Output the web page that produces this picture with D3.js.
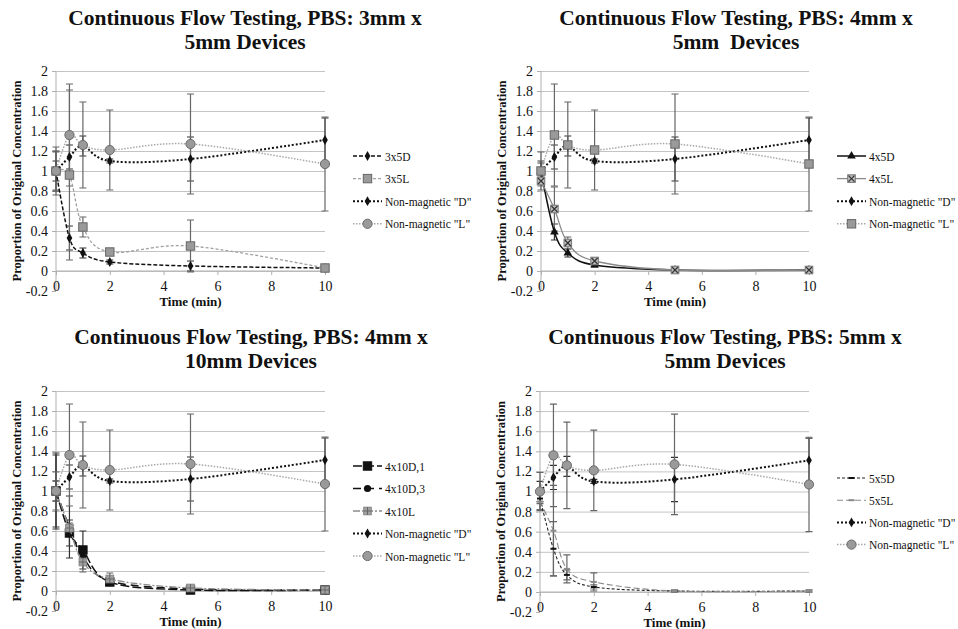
<!DOCTYPE html>
<html>
<head>
<meta charset="utf-8">
<script src="https://cdn.jsdelivr.net/npm/d3@7"></script>
<style>
  body { margin: 0; background: #fff; }
  svg text { font-family: "Liberation Serif", "DejaVu Serif", serif !important; fill: #111; }
</style>
</head>
<body>
<svg id="chart" width="958" height="629"></svg>
<script>
// Sampling times (min)
const times = [0, 0.5, 1, 2, 5, 10];
const xTicks = [0, 2, 4, 6, 8, 10];
const yTicks = [-0.2, 0, 0.2, 0.4, 0.6, 0.8, 1, 1.2, 1.4, 1.6, 1.8, 2];

// Non-magnetic controls (same in every panel)
const nonMagD = [1.00, 1.14, 1.25, 1.10, 1.12, 1.31];
const nonMagDErr = [0.10, 0.12, 0.10, 0.02, 0.22, 0.22];
const nonMagL = [1.00, 1.36, 1.26, 1.21, 1.27, 1.07];
const nonMagLErr = [0.19, 0.51, 0.43, 0.40, 0.50, 0.47];

// 3mm x 5mm
const d3x5 = [1.00, 0.33, 0.18, 0.09, 0.05, 0.03];
const d3x5Err = [0.20, 0.12, 0.05, 0.02, 0.05, 0.01];
const l3x5 = [1.00, 0.96, 0.44, 0.19, 0.25, 0.03];
const l3x5Err = [0.24, 0.85, 0.10, 0.03, 0.26, 0.02];

// 4mm x 5mm
const d4x5 = [1.00, 0.39, 0.18, 0.06, 0.01, 0.01];
const d4x5Err = [0.08, 0.08, 0.04, 0.02, 0.01, 0.01];
const l4x5 = [0.90, 0.62, 0.28, 0.10, 0.01, 0.01];
const l4x5Err = [0.05, 0.22, 0.06, 0.03, 0.01, 0.01];

// 4mm x 10mm
const d4x10a = [1.00, 0.58, 0.41, 0.09, 0.01, 0.01];
const d4x10aErr = [0.36, 0.13, 0.19, 0.02, 0.01, 0.01];
const d4x10b = [1.00, 0.64, 0.34, 0.10, 0.02, 0.01];
const d4x10bErr = [0.38, 0.31, 0.05, 0.02, 0.01, 0.01];
const l4x10 = [1.00, 0.63, 0.29, 0.12, 0.03, 0.01];
const l4x10Err = [0.10, 0.05, 0.10, 0.06, 0.02, 0.01];

// 5mm x 5mm
const d5x5 = [0.93, 0.43, 0.17, 0.05, 0.01, 0.01];
const d5x5Err = [0.05, 0.27, 0.05, 0.02, 0.01, 0.01];
const l5x5 = [0.90, 0.61, 0.23, 0.10, 0.01, 0.01];
const l5x5Err = [0.08, 0.45, 0.14, 0.09, 0.01, 0.01];

// Line / marker styles
const BLACK = "#111", GRAY = "#8a8a8a";
const styles = {
  nmD: { stroke: BLACK, dash: "2,2", width: 2, marker: "diamond", fill: BLACK },
  nmLcircle: { stroke: "#a8a8a8", dash: "1.5,1.5", width: 1.5, marker: "circle", fill: "#9a9a9a" },
  nmLsquare: { stroke: "#a8a8a8", dash: "1.5,1.5", width: 1.5, marker: "square", fill: "#9a9a9a" },
  d3x5: { stroke: BLACK, dash: "4,2", width: 1.5, marker: "diamond", fill: BLACK },
  l3x5: { stroke: "#a0a0a0", dash: "3,2", width: 1.3, marker: "square", fill: "#9a9a9a" },
  d4x5: { stroke: BLACK, dash: null, width: 1.5, marker: "triangle", fill: BLACK },
  l4x5: { stroke: GRAY, dash: null, width: 1.3, marker: "squareX", fill: "#bdbdbd" },
  d4x10a: { stroke: BLACK, dash: "9,3", width: 1.5, marker: "square", fill: BLACK },
  d4x10b: { stroke: BLACK, dash: "8,5", width: 1.5, marker: "circleSmall", fill: BLACK },
  l4x10: { stroke: GRAY, dash: "7,2,2,2", width: 1.3, marker: "squarePlus", fill: "#a0a0a0" },
  d5x5: { stroke: "#222", dash: "3,2", width: 1.1, marker: "dash", fill: BLACK },
  l5x5: { stroke: GRAY, dash: "6,3", width: 1.1, marker: "dash", fill: GRAY }
};

const panels = [
  {
    title: ["Continuous Flow Testing, PBS: 3mm x", "5mm Devices"],
    x0: 56, x1: 325, yTop: 71, yZero: 271, titleX: 245, titleY: 25,
    legendX: 353, legendY: 156, legendStep: 22.6,
    series: [
      { name: "3x5D", v: d3x5, e: d3x5Err, s: "d3x5" },
      { name: "3x5L", v: l3x5, e: l3x5Err, s: "l3x5" },
      { name: "Non-magnetic \"D\"", v: nonMagD, e: nonMagDErr, s: "nmD" },
      { name: "Non-magnetic \"L\"", v: nonMagL, e: nonMagLErr, s: "nmLcircle" }
    ]
  },
  {
    title: ["Continuous Flow Testing, PBS: 4mm x", "5mm\u00a0 Devices"],
    x0: 541, x1: 809, yTop: 71, yZero: 271, titleX: 736, titleY: 25,
    legendX: 837, legendY: 156, legendStep: 22.6,
    series: [
      { name: "4x5D", v: d4x5, e: d4x5Err, s: "d4x5" },
      { name: "4x5L", v: l4x5, e: l4x5Err, s: "l4x5" },
      { name: "Non-magnetic \"D\"", v: nonMagD, e: nonMagDErr, s: "nmD" },
      { name: "Non-magnetic \"L\"", v: nonMagL, e: nonMagLErr, s: "nmLsquare" }
    ]
  },
  {
    title: ["Continuous Flow Testing, PBS: 4mm x", "10mm Devices"],
    x0: 56, x1: 325, yTop: 391, yZero: 591, titleX: 251, titleY: 344,
    legendX: 353, legendY: 466, legendStep: 22.5,
    series: [
      { name: "4x10D,1", v: d4x10a, e: d4x10aErr, s: "d4x10a" },
      { name: "4x10D,3", v: d4x10b, e: d4x10bErr, s: "d4x10b" },
      { name: "4x10L", v: l4x10, e: l4x10Err, s: "l4x10" },
      { name: "Non-magnetic \"D\"", v: nonMagD, e: nonMagDErr, s: "nmD" },
      { name: "Non-magnetic \"L\"", v: nonMagL, e: nonMagLErr, s: "nmLcircle" }
    ]
  },
  {
    title: ["Continuous Flow Testing, PBS: 5mm x", "5mm Devices"],
    x0: 540, x1: 809, yTop: 391, yZero: 592, titleX: 725, titleY: 344,
    legendX: 837, legendY: 478, legendStep: 22.2,
    series: [
      { name: "5x5D", v: d5x5, e: d5x5Err, s: "d5x5" },
      { name: "5x5L", v: l5x5, e: l5x5Err, s: "l5x5" },
      { name: "Non-magnetic \"D\"", v: nonMagD, e: nonMagDErr, s: "nmD" },
      { name: "Non-magnetic \"L\"", v: nonMagL, e: nonMagLErr, s: "nmLcircle" }
    ]
  }
];

const svg = d3.select("#chart");

function drawMarker(g, type, st, x, y) {
  const m = g.append("g").attr("transform", `translate(${x},${y})`);
  if (type === "diamond") {
    m.append("path").attr("d", d3.symbol(d3.symbolDiamond, 28)()).attr("fill", st.fill);
  } else if (type === "triangle") {
    m.append("path").attr("d", d3.symbol(d3.symbolTriangle, 32)()).attr("fill", st.fill);
  } else if (type === "circle") {
    m.append("circle").attr("r", 4.6).attr("fill", st.fill).attr("stroke", "#6a6a6a").attr("stroke-width", 1);
  } else if (type === "circleSmall") {
    m.append("circle").attr("r", 3.6).attr("fill", st.fill);
  } else if (type === "square") {
    const dark = st.fill === BLACK;
    m.append("rect").attr("x", -4.2).attr("y", -4.2).attr("width", 8.4).attr("height", 8.4)
      .attr("fill", st.fill).attr("stroke", dark ? BLACK : "#666").attr("stroke-width", 1);
  } else if (type === "squareX") {
    m.append("rect").attr("x", -3.8).attr("y", -3.8).attr("width", 7.6).attr("height", 7.6)
      .attr("fill", st.fill).attr("stroke", "#777").attr("stroke-width", 1);
    m.append("path").attr("d", "M-3,-3L3,3M-3,3L3,-3").attr("stroke", "#333").attr("stroke-width", 1.2);
  } else if (type === "squarePlus") {
    m.append("rect").attr("x", -3.8).attr("y", -3.8).attr("width", 7.6).attr("height", 7.6)
      .attr("fill", st.fill).attr("stroke", "#888").attr("stroke-width", 1);
    m.append("path").attr("d", "M0,-3.8V3.8M-3.8,0H3.8").attr("stroke", "#666").attr("stroke-width", 1);
  } else if (type === "dash") {
    m.append("path").attr("d", "M-3,0H3").attr("stroke", st.fill).attr("stroke-width", 2);
  }
}

const fmt = v => (Math.round(v * 10) / 10).toString();

panels.forEach(p => {
  const x = d3.scaleLinear().domain([0, 10]).range([p.x0, p.x1]);
  const y = d3.scaleLinear().domain([0, 2]).range([p.yZero, p.yTop]);
  const g = svg.append("g");

  // Gridlines (skip -0.2)
  g.append("g")
    .attr("transform", `translate(${p.x0},0)`)
    .call(d3.axisLeft(y).tickValues(yTicks.filter(t => t > -0.1)).tickSize(-(p.x1 - p.x0)).tickFormat(""))
    .call(a => a.select(".domain").remove())
    .call(a => a.selectAll("line").attr("stroke", "#c4c4c4").attr("stroke-width", 1));

  // Y axis with outside ticks
  const yAxis = g.append("g")
    .attr("transform", `translate(${p.x0},0)`)
    .call(d3.axisLeft(y).tickValues(yTicks).tickSize(4).tickPadding(4).tickFormat(fmt));
  yAxis.select(".domain").attr("stroke", "#b0b0b0").attr("d", `M-0,${y(-0.2)}V${y(2)}`);
  yAxis.selectAll(".tick line").attr("stroke", "#b0b0b0");
  yAxis.selectAll(".tick text").style("font-size", "14px").attr("fill", "#111");

  // X axis at y = 0
  const xAxis = g.append("g")
    .attr("transform", `translate(0,${p.yZero})`)
    .call(d3.axisBottom(x).tickValues(xTicks).tickSize(4).tickPadding(6).tickFormat(d3.format("d")));
  xAxis.select(".domain").attr("stroke", "#b0b0b0").attr("d", `M${p.x0},0H${p.x1}`);
  xAxis.selectAll(".tick line").attr("stroke", "#b0b0b0");
  xAxis.selectAll(".tick text").style("font-size", "14px").attr("fill", "#111");

  // Title
  p.title.forEach((t, i) => {
    g.append("text")
      .attr("x", p.titleX).attr("y", p.titleY + i * 23.5)
      .attr("text-anchor", "middle")
      .style("font-size", "21.5px").style("font-weight", "bold")
      .text(t);
  });

  // Axis titles
  g.append("text")
    .attr("transform", `translate(${p.x0 - 35},${(y(-0.2) + y(2)) / 2}) rotate(-90)`)
    .attr("text-anchor", "middle")
    .style("font-size", "12.5px").style("font-weight", "bold")
    .text("Proportion of Original Concentration");
  g.append("text")
    .attr("x", (p.x0 + p.x1) / 2).attr("y", y(-0.2) + 15)
    .attr("text-anchor", "middle")
    .style("font-size", "13px").style("font-weight", "bold")
    .text("Time (min)");

  const line = d3.line()
    .x((d, i) => x(times[i]))
    .y(d => y(d))
    .curve(d3.curveCardinal.tension(0));

  // Error bars
  p.series.forEach(s => {
    const st = styles[s.s];
    const eg = g.append("g");
    s.v.forEach((v, i) => {
      const cx = x(times[i]);
      const lo = y(v - s.e[i]), hi = y(v + s.e[i]);
      eg.append("path")
        .attr("d", `M${cx},${lo}V${hi}M${cx - 3.5},${lo}H${cx + 3.5}M${cx - 3.5},${hi}H${cx + 3.5}`)
        .attr("stroke", st.stroke === BLACK ? "#333" : "#666").attr("stroke-width", 1.2)
        .attr("fill", "none");
    });
  });

  // Lines and markers
  p.series.forEach(s => {
    const st = styles[s.s];
    g.append("path")
      .datum(s.v)
      .attr("d", line)
      .attr("fill", "none")
      .attr("stroke", st.stroke)
      .attr("stroke-width", st.width)
      .attr("stroke-dasharray", st.dash);
    s.v.forEach((v, i) => drawMarker(g, st.marker, st, x(times[i]), y(v)));
  });

  // Legend
  p.series.forEach((s, i) => {
    const st = styles[s.s];
    const ly = p.legendY + i * p.legendStep;
    g.append("path")
      .attr("d", `M${p.legendX},${ly}H${p.legendX + 29}`)
      .attr("stroke", st.stroke).attr("stroke-width", st.width)
      .attr("stroke-dasharray", st.dash);
    drawMarker(g, st.marker, st, p.legendX + 14.5, ly);
    g.append("text")
      .attr("x", p.legendX + 32).attr("y", ly + 4.5)
      .style("font-size", "11.5px")
      .text(s.name);
  });
});
</script>
</body>
</html>
